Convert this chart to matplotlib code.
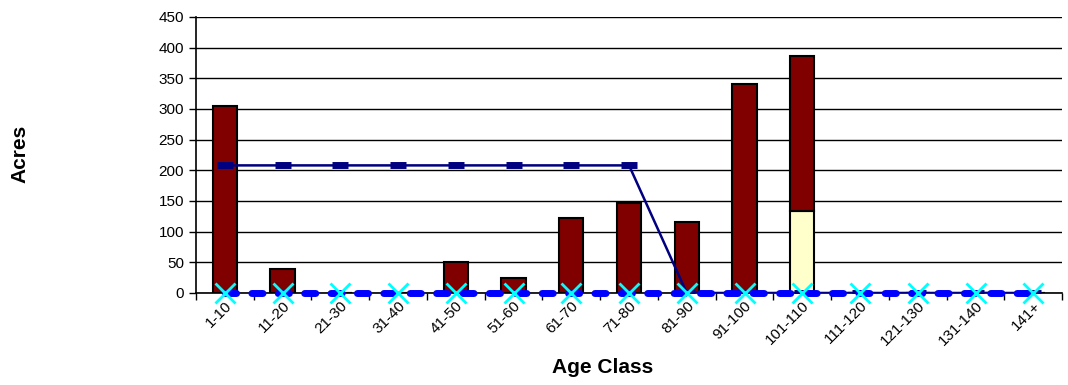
import numpy as np
import matplotlib.pyplot as plt

plt.rcParams['font.family'] = ['Liberation Sans', 'DejaVu Sans']

age_classes = ['1-10', '11-20', '21-30', '31-40', '41-50', '51-60', '61-70', '71-80',
               '81-90', '91-100', '101-110', '111-120', '121-130', '131-140', '141+']
acres_main = [305, 39, 0, 0, 51, 24, 122, 147, 116, 341, 253, 0, 0, 0, 0]
acres_light = [0, 0, 0, 0, 0, 0, 0, 0, 0, 0, 134, 0, 0, 0, 0]
target_line = [208, 208, 208, 208, 208, 208, 208, 208, 0, 0, 0, 0, 0, 0, 0]
base_line = [0] * 15

x = np.arange(len(age_classes))

fig = plt.figure(figsize=(10.68, 3.85), dpi=100)
ax = fig.add_axes([0.1835, 0.239, 0.811, 0.717])

ax.set_axisbelow(True)
ax.grid(axis='y', color='black', linewidth=1)

# stacked bars: light segment at the bottom, dark red on top
ax.bar(x, acres_light, width=0.42, color='#FFFFCC', edgecolor='black', linewidth=1.5, zorder=2)
ax.bar(x, acres_main, width=0.42, bottom=acres_light, color='#800000',
       edgecolor='black', linewidth=1.5, zorder=2)

ax.plot(x, target_line, color='#000080', linewidth=1.8, marker='_', markersize=12,
        markeredgewidth=5, zorder=3)
ax.plot(x, base_line, color='#0000FF', linewidth=5, linestyle=(0, (1.6, 2.2)),
        dash_capstyle='round', zorder=4, clip_on=False)
ax.plot(x, base_line, linestyle='none', marker='x', color='#00FFFF', markersize=15,
        markeredgewidth=2, zorder=5, clip_on=False)

ax.set_xlim(-0.5, len(age_classes) - 0.5)
ax.set_ylim(0, 450)
ax.set_yticks(np.arange(0, 451, 50))
ax.tick_params(axis='y', labelsize=11, length=5, width=1)

ax.set_xticks(x)
ax.set_xticklabels(age_classes, rotation=45, ha='right', va='top',
                   rotation_mode='anchor', fontsize=11)
ax.tick_params(axis='x', length=0, pad=4)
ax.set_xticks(np.arange(-0.5, len(age_classes), 1), minor=True)
ax.tick_params(axis='x', which='minor', length=5, width=1)

for side in ['top', 'right']:
    ax.spines[side].set_visible(False)
ax.spines['left'].set_linewidth(1.2)
ax.spines['bottom'].set_linewidth(1.2)

fig.text(0.564, 0.045, 'Age Class', fontsize=15, fontweight='bold',
         ha='center', va='center')
fig.text(0.019, 0.6, 'Acres', rotation=90, fontsize=15, fontweight='bold',
         ha='center', va='center')

fig.savefig('out.png', dpi=100)
